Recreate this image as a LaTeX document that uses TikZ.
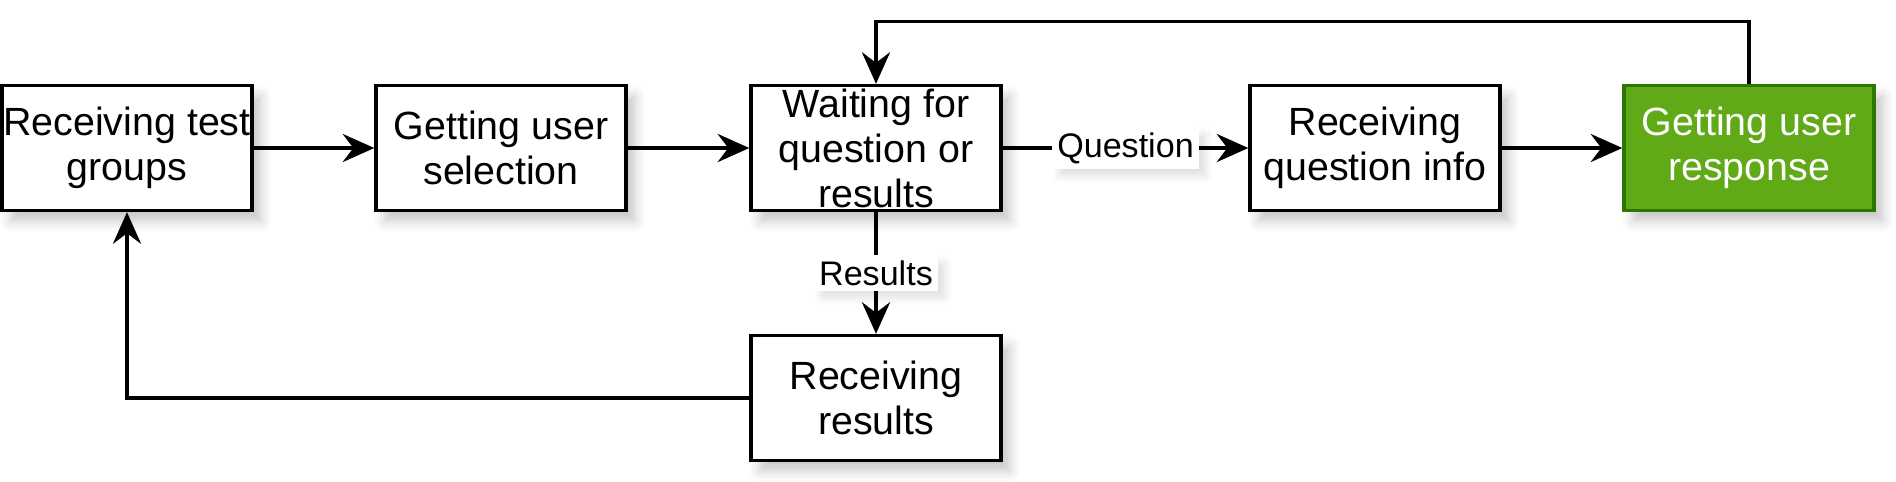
\documentclass[tikz,border=0pt]{standalone}
\usepackage{fontspec}
\setmainfont{Liberation Sans}
\usetikzlibrary{arrows.meta, shadows.blur}
\definecolor{respGreen}{RGB}{96, 169, 23}
\definecolor{respGreenDark}{RGB}{45, 118, 0}

\begin{document}
\begin{tikzpicture}[
    statebox/.style={draw=black, line width=0.95pt, fill=white,
      minimum width=2.5cm, minimum height=1.25cm, inner sep=0pt,
      align=center, font=\fontsize{11.2}{12.8}\selectfont,
      blur shadow={shadow xshift=2.5pt, shadow yshift=-3pt,
        shadow blur radius=3pt, shadow opacity=22}},
    flow/.style={line width=0.95pt, -{Stealth[length=9pt, width=8pt, inset=3pt]}},
    edgelabel/.style={fill=white, inner sep=1.5pt, font=\fontsize{9.7}{11}\selectfont,
      blur shadow={shadow xshift=2pt, shadow yshift=-2pt,
        shadow blur radius=2pt, shadow opacity=12}}
  ]
        \useasboundingbox (0,0) rectangle (18.96,-4.81);

        % States along the main row
        \node[statebox] (recvgroups) at (1.27,-1.48) {Receiving test\\groups};
        \node[statebox] (getsel) at (5.01,-1.48) {Getting user\\selection};
        \node[statebox] (waiting) at (8.76,-1.48) {Waiting for\\question or\\results};
        \node[statebox] (recvq) at (13.75,-1.48) {Receiving\\question info};
        \node[statebox, fill=respGreen, draw=respGreenDark, text=white] (getresp) at (17.49,-1.48) {Getting user\\response};
        \node[statebox] (recvres) at (8.76,-3.98) {Receiving\\results};

        % Transitions
        \draw[flow] (recvgroups) -- (getsel);
        \draw[flow] (getsel) -- (waiting);
        \draw[flow] (waiting) -- node[edgelabel] {Question} (recvq);
        \draw[flow] (recvq) -- (getresp);
        \draw[flow] (waiting) -- node[edgelabel] {Results} (recvres);
        \draw[flow] (recvres.west) -| (recvgroups.south);
        \draw[flow] (getresp.north) -- ++(0,0.625) -| (waiting.north);
      \end{tikzpicture}
\end{document}
